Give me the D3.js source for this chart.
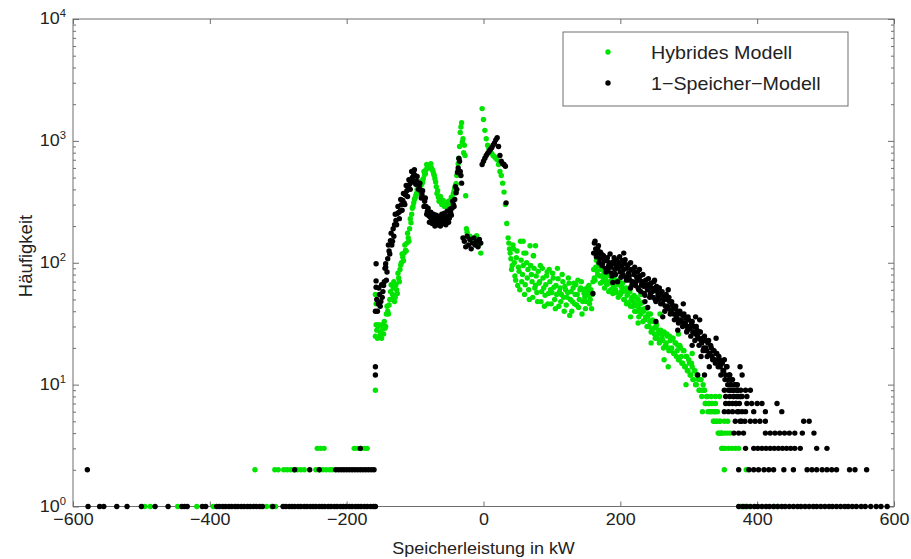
<!DOCTYPE html>
<html>
<head>
<meta charset="utf-8">
<script src="https://cdn.jsdelivr.net/npm/d3@7"></script>
<style>
  body { margin: 0; background: #fff; }
  text { font-family: "Liberation Sans", Arial, sans-serif; fill: #222; }
</style>
</head>
<body>
<script>
// Histogram of storage power, two models (counts per kW bin, log y)

var xTicks = [-600, -400, -200, 0, 200, 400, 600];
var yDecades = [0, 1, 2, 3, 4];
var seriesNames = ["Hybrides Modell", "1\u2212Speicher\u2212Modell"];

// Hybrides Modell (green), dense bins every 2 kW
var hybFrom1 = -156;
var hybBins1 = [28, 30, 25, 27, 31, 26, 29, 38,
  40, 45, 58, 50, 62, 48, 66, 56, 75, 88, 100, 111, 120, 127, 145, 160, 190, 213, 280, 310,
  340, 370, 390, 405, 430, 445, 490, 530,
  580, 610, 630, 630, 600, 570, 520, 460, 370, 345, 335, 330, 315, 305, 300, 295, 305, 310,
  325, 345, 370, 410, 445,
  560, 720, 1170, 1410, 1040, 920];
var hybOddFrom1 = -155;
var hybOdd1 = [24, 31, 27, 24, 29, 33, 30, 44, 38, 50,
  66, 55, 70, 52, 60, 82, 70, 96, 118, 104,
  140, 125, 175, 150, 230, 250, 290, 330, 355, 400,
  370, 420, 470, 460, 560, 540, 640, 600, 600, 650,
  580, 540, 490, 420, 390, 320, 350, 300, 325, 290,
  310, 285, 320, 300, 345, 330, 390, 430, 520, 650,
  900, 1300, 980, 800];
var hybFrom2 = -2;
var hybBins2 = [1840, 1500, 1220, 1040, 920, 870, 820, 790, 760, 740, 720, 700, 640, 560, 520, 450, 380, 300, 210,
  160, 130, 108, 95, 130, 78, 110, 65, 85, 150, 70, 95, 55, 120, 75, 60, 138, 80, 52, 90,
  65, 57, 85, 70, 48, 90, 62, 54, 78, 46, 88, 60, 57, 75, 50, 65, 90, 44, 62, 55,
  70, 40, 60, 52, 75, 37, 58, 48, 68, 55, 45, 72, 50, 62, 38, 60, 52, 48, 57, 65, 50, 42, 70,
  75, 92, 86, 100, 78, 88, 70, 82, 74, 66,
  80, 68, 60, 75, 64, 70, 57, 66, 72, 55,
  63, 58, 50, 62, 54, 47, 58, 50, 44, 54,
  46, 40, 50, 42, 38, 47, 40, 34, 42, 36,
  30, 38, 28, 33, 26, 30, 24, 28, 23, 26,
  23, 27, 21, 26, 20, 25, 19, 24, 18, 22,
  17, 21, 16, 20, 15, 19, 14, 17, 13, 16,
  12, 15, 11, 13, 10, 12, 11, 9, 11, 9,
  9, 7, 8, 6, 7, 6, 7, 5, 6, 5,
  6, 4, 5, 4, 3];
var hybOddFrom2 = 37;
var hybOdd2 = [145, 120, 88, 140, 100, 72, 125, 92, 60, 105,
  80, 120, 66, 100, 88, 50, 95, 70, 114, 62,
  78, 48, 68, 95, 58, 75, 44, 66, 84, 56,
  70, 46, 82, 63, 42, 55, 74, 58, 48, 80,
  52, 64, 45, 57, 68, 50, 40, 62, 46, 66,
  55, 43, 60, 70, 48, 56, 42, 62, 54, 46,
  60, 55,
  88, 72, 105, 80, 95, 68, 90, 76, 62, 84,
  70, 58, 78, 72, 56, 74, 60, 70, 52, 66,
  58, 68, 50, 60, 46, 56, 62, 44, 52, 48,
  40, 52, 44, 36, 46, 40, 33, 42, 36, 30,
  38, 33, 27, 34, 29, 24, 31, 26, 22, 28,
  24, 20, 26, 22, 25, 19, 23, 20, 24, 18,
  22, 19, 16, 21, 17, 15, 19, 14, 17, 13,
  15, 12, 14, 11, 13, 10, 12, 9, 11, 8,
  10, 9, 7, 8, 7, 6, 8, 6, 5, 7,
  5, 4, 5, 4, 3];
// sparse bins: [count, list of kW]
var hybLow = [
  [1, [-495, -487, -447, -419, -395, -317, -310, -304, 376, 381, 386, 425, 430]],
  [2, [-334, -305, -300, -292, -287, -282, -277, -272, -267, -262, -245, -240, -235, -230, -225, -221, 352, 384]],
  [3, [-243, -238, -233, -189, -184, -179, -174, -170, 348, 353, 358, 363, 368, 373]],
  [4, [349, 353, 357, 361]],
  [5, [352, 357]],
  [6, [339]],
  [8, [339, 345]]
];
var hybExtra = [[-158, 9], [-158, 25], [-157, 31], [-157, 46], [-158, 55], [-27, 760], [-26, 355],
  [-25, 190], [-24, 178], [-20, 165], [-15, 150], [-10, 167], [-7, 140], [-4, 120],
  [58, 150], [76, 138], [73, 114],
  [200, 85], [215, 36], [226, 32], [230, 55], [245, 22], [258, 38], [264, 16], [270, 14],
  [285, 26], [296, 10], [305, 18], [320, 6]];

// 1-Speicher-Modell (black)
var blackFrom1 = -156;
var blackBins1 = [50, 46, 55, 48, 52, 65, 90, 72, 108, 125,
  152, 140, 190, 205, 222, 253, 259, 265, 300, 324,
  310, 360, 390, 418, 440, 470, 500, 537, 520, 470,
  450, 420, 392, 365, 340, 320, 290, 265, 243, 238,
  230, 235, 222, 218, 226, 213, 222, 216, 228, 232,
  220, 236, 240, 232, 258, 280, 300, 330, 375, 550,
  716, 560, 450,
  160, 150, 135, 165, 140, 155, 130, 145, 160, 140, 150, 135, 155, 145,
  640, 680, 720, 760, 790, 820, 850, 880, 920, 960, 1020, 1060, 900, 760, 680, 650, 640, 620];
var blackOddFrom1 = -155;
var blackOdd1 = [40, 62, 44, 66, 58, 70, 98, 84, 140, 118,
  175, 150, 165, 250, 205, 290, 230, 330, 270, 370,
  300, 430, 350, 480, 400, 560, 460, 580, 440, 510,
  400, 450, 340, 390, 290, 340, 250, 280, 215, 260,
  210, 250, 200, 245, 205, 240, 200, 250, 210, 255,
  205, 265, 215, 275, 245, 320, 290, 420, 400, 600,
  680, 520];
var blackFrom2 = 160;
var blackBins2 = [56, 145, 130, 120, 138, 108, 118, 98, 112, 90,
  104, 86, 100, 92, 78, 102, 88, 95, 70, 100,
  84, 94, 80, 98, 76, 90, 82, 72, 88, 70,
  80, 65, 76, 62, 72, 58, 70, 64, 54, 66,
  60, 66, 56, 62, 52, 60, 48, 58, 50, 55,
  54, 46, 52, 44, 50, 42, 48, 40, 45, 38,
  42, 36, 40, 34, 38, 33, 37, 31, 35, 30,
  34, 29, 32, 27, 30, 26, 28, 24, 27, 23,
  24, 20, 23, 19, 22, 18, 21, 17, 19, 16,
  18, 15, 17, 14, 15, 13, 16, 12, 14, 11,
  12, 10, 11, 9, 10, 8, 9, 7, 8, 6];
var blackOddFrom2 = 161;
var blackOdd2 = [120, 150, 112, 128, 100, 122, 95, 115, 105, 84,
  110, 95, 118, 82, 98, 110, 80, 105, 90, 112,
  76, 104, 88, 106, 72, 96, 78, 100, 66, 86,
  92, 70, 84, 60, 78, 66, 80, 56, 72, 62,
  74, 52, 68, 58, 70, 50, 64, 54, 62, 46,
  58, 50, 40, 55, 44, 52, 38, 48, 42, 34,
  44, 38, 32, 40, 34, 30, 38, 32, 27, 36,
  30, 25, 33, 27, 23, 30, 25, 21, 27, 22,
  19, 25, 20, 17, 23, 18, 20, 16, 19, 15,
  18, 14, 16, 12, 15, 13, 11, 14, 10, 12,
  9, 11, 8, 10, 7, 9, 6, 8, 5];
var blackLow = [
  [1, [-578, -561, -555, -536, -521, -500, -480, -461, -441, -437, -433, -411, -406,
    -390, -386, -381, -377, -372, -368, -363, -359, -354, -350, -345, -341, -336, -332, -327, -323,
    -308, -293, -289, -284, -280, -276, -271, -267, -262, -258, -253, -249, -245, -240, -236, -232,
    -227, -223, -218, -214, -209, -205, -201, -196, -192, -187, -183, -179, -174, -170, -165, -161, -158,
    373, 379, 384, 390, 396, 401, 407, 413, 418, 424, 430, 436, 441, 447, 453, 459, 464, 470, 476,
    482, 487, 493, 499, 505, 510, 516, 522, 528, 533, 539, 545, 552, 558, 566, 574, 581, 590]],
  [2, [-579, -276, -254, -240, -216, -212, -208, -204, -200, -196, -192, -188, -184, -180, -176, -172,
    -168, -164, -160, 373, 388, 395, 402, 410, 417, 424, 439, 453, 473, 480, 487, 495, 502, 509, 516,
    535, 543, 560]],
  [3, [-180, 383, 395, 401, 407, 413, 419, 425, 431, 437, 443, 449, 455, 463, 487, 502]],
  [4, [366, 373, 380, 412, 419, 426, 433, 440, 447, 455, 466, 483]],
  [5, [368, 375, 382, 390, 397, 404, 412, 468, 476]],
  [6, [352, 358, 364, 371, 383, 395, 412, 436]],
  [7, [354, 359, 364, 369, 385, 392, 400, 407, 429]],
  [8, [354, 360, 366, 372, 378, 385]],
  [9, [352, 358, 364, 370, 376, 383, 390]],
  [10, [361, 371]],
  [12, [378]],
  [14, [375]]
];
var blackExtra = [[-158, 12], [-158, 14], [-158, 40], [-157, 63], [-157, 71], [-157, 98], [-143, 92],
  [33, 310], [189, 69], [240, 43], [252, 33], [298, 28], [313, 12], [323, 12], [318, 17],
  [205, 120], [215, 62], [228, 88], [236, 48], [250, 72], [262, 36], [270, 60], [284, 28],
  [292, 46], [305, 21], [310, 36], [316, 34], [330, 14], [340, 24]];

/*** helpers ***/
function binsToPoints(from, counts) {
  return counts.map(function(c, i) { return [from + 2 * i, c]; });
}
function levelsToPoints(levels) {
  var out = [];
  levels.forEach(function(l) {
    l[1].forEach(function(v) { out.push([v, l[0]]); });
  });
  return out;
}

var hybPts = binsToPoints(hybFrom1, hybBins1).concat(
  binsToPoints(hybOddFrom1, hybOdd1),
  binsToPoints(hybFrom2, hybBins2),
  binsToPoints(hybOddFrom2, hybOdd2),
  levelsToPoints(hybLow), hybExtra);
var blackPts = binsToPoints(blackFrom1, blackBins1).concat(
  binsToPoints(blackOddFrom1, blackOdd1),
  binsToPoints(blackFrom2, blackBins2),
  binsToPoints(blackOddFrom2, blackOdd2),
  levelsToPoints(blackLow), blackExtra);

// Width and height
var w = 911;
var h = 559;
var plotL = 73, plotR = 894, plotT = 19, plotB = 506.5;
var SX = 1.07;   // reference text runs a little wide
var green = "#00e400";
var axisColor = "#6e6e6e";
var dotR = 2.7;

var xScale = d3.scaleLinear().domain([-600, 600]).range([plotL, plotR]);
var yScale = d3.scaleLog().domain([1, 1e4]).range([plotB, plotT]);

var svg = d3.select("body").append("svg")
  .attr("width", w)
  .attr("height", h);

var majorY = yDecades.map(function(d) { return Math.pow(10, d); });
var minorY = [];
for (var d = 0; d < 4; d++) {
  for (var m = 2; m < 10; m++) minorY.push(m * Math.pow(10, d));
}

function styleAxis(g) {
  g.select(".domain").remove();
  g.selectAll("line").attr("stroke", axisColor);
}

// X axes (bottom with labels, top without)
svg.append("g")
  .attr("transform", "translate(0," + plotB + ")")
  .call(d3.axisBottom(xScale).tickValues(xTicks).tickSize(-5).tickPadding(7))
  .call(styleAxis)
  .selectAll("text")
  .attr("transform", "scale(" + SX + ",1)")
  .style("font-size", "16.8px")
  .style("fill", "#222");

svg.append("g")
  .attr("transform", "translate(0," + plotT + ")")
  .call(d3.axisTop(xScale).tickValues(xTicks).tickSize(-5).tickFormat(""))
  .call(styleAxis);

// Y axes, major and minor ticks on both sides
[[d3.axisLeft, plotL], [d3.axisRight, plotR]].forEach(function(a) {
  svg.append("g")
    .attr("transform", "translate(" + a[1] + ",0)")
    .call(a[0](yScale).tickValues(majorY).tickSize(-6).tickFormat(""))
    .call(styleAxis);
  svg.append("g")
    .attr("transform", "translate(" + a[1] + ",0)")
    .call(a[0](yScale).tickValues(minorY).tickSize(-3).tickFormat(""))
    .call(styleAxis);
});

// box
svg.append("rect")
  .attr("x", plotL).attr("y", plotT)
  .attr("width", plotR - plotL).attr("height", plotB - plotT)
  .attr("fill", "none")
  .attr("stroke", axisColor);

// Y tick labels 10^n
yDecades.forEach(function(e) {
  var t = svg.append("text")
    .attr("transform", "translate(" + (plotL - 7) + "," + (yScale(Math.pow(10, e)) + 5) + ") scale(" + SX + ",1)")
    .attr("text-anchor", "end")
    .style("font-size", "16.8px");
  t.append("tspan").text("10");
  t.append("tspan").attr("dy", -7).style("font-size", "10.5px").text(e);
});

// axis titles
svg.append("text")
  .attr("transform", "translate(" + ((plotL + plotR) / 2) + ",554) scale(" + SX + ",1)")
  .attr("text-anchor", "middle")
  .style("font-size", "16.8px")
  .text("Speicherleistung in kW");

svg.append("text")
  .attr("transform", "translate(32,256) rotate(-90)")
  .attr("text-anchor", "middle")
  .style("font-size", "18.5px")
  .text("H\u00e4ufigkeit");

// points: green first, black on top
svg.append("g").selectAll("circle")
  .data(hybPts)
  .enter().append("circle")
  .attr("cx", function(d) { return xScale(d[0]); })
  .attr("cy", function(d) { return yScale(d[1]); })
  .attr("r", dotR)
  .style("fill", green);

svg.append("g").selectAll("circle")
  .data(blackPts)
  .enter().append("circle")
  .attr("cx", function(d) { return xScale(d[0]); })
  .attr("cy", function(d) { return yScale(d[1]); })
  .attr("r", dotR)
  .style("fill", "#000");

// legend
var legend = svg.append("g");
legend.append("rect")
  .attr("x", 563).attr("y", 32)
  .attr("width", 285).attr("height", 74)
  .attr("fill", "#fff")
  .attr("stroke", axisColor);

[green, "#000"].forEach(function(c, i) {
  legend.append("circle")
    .attr("cx", 608).attr("cy", 52 + i * 31)
    .attr("r", dotR)
    .style("fill", c);
  legend.append("text")
    .attr("transform", "translate(651," + (58.5 + i * 31) + ") scale(" + SX + ",1)")
    .style("font-size", "18.4px")
    .text(seriesNames[i]);
});
</script>
</body>
</html>
